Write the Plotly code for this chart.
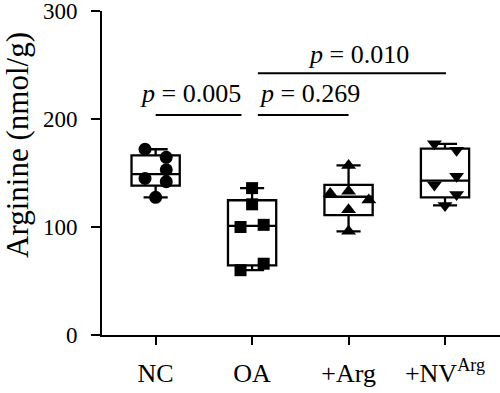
import numpy as np
import plotly.graph_objects as go

# ---- data ----
groups = ["NC", "OA", "+Arg", "+NV<sup>Arg</sup>"]
nc_vals = [172, 164.5, 153, 145, 142, 127.5]
oa_vals = [136, 121, 100, 102, 60, 66]
arg_vals = [157, 131, 133, 125, 116, 96]
nv_vals = [177, 171, 147, 139, 130, 120]
y_ticks = [0, 100, 200, 300]
p_labels = ["<i>p</i> = 0.005", "<i>p</i> = 0.269", "<i>p</i> = 0.010"]

# ---- style / layout (positions, not data) ----
jitter = [
    [-0.11, 0.11, 0.11, -0.11, 0.11, 0.0],
    [0.0, 0.0, -0.12, 0.12, -0.12, 0.12],
    [0.0, -0.19, 0.0, 0.21, 0.0, 0.0],
    [-0.11, 0.12, 0.12, -0.11, 0.12, 0.0],
]
symbols = ["circle", "square", "triangle-up", "triangle-down"]
sizes = [13, 12, 13, 13]
all_vals = [nc_vals, oa_vals, arg_vals, nv_vals]
xpos = list(range(len(groups)))

q1, med, q3, lo, hi = [], [], [], [], []
for v in all_vals:
    a = np.array(v, dtype=float)
    q1.append(float(np.percentile(a, 25, method="weibull")))
    med.append(float(np.median(a)))
    q3.append(float(np.percentile(a, 75, method="weibull")))
    lo.append(float(a.min()))
    hi.append(float(a.max()))

fig = go.Figure()
fig.add_trace(go.Box(
    x=xpos, q1=q1, median=med, q3=q3, lowerfence=lo, upperfence=hi,
    width=0.5, whiskerwidth=0.5, boxpoints=False,
    fillcolor="rgba(0,0,0,0)", line=dict(color="black", width=2.3),
    showlegend=False, hoverinfo="skip",
))
for i, v in enumerate(all_vals):
    fig.add_trace(go.Scatter(
        x=[xpos[i] + d for d in jitter[i]], y=v, mode="markers",
        marker=dict(symbol=symbols[i], size=sizes[i], color="black"),
        showlegend=False, cliponaxis=False,
    ))

serif = "Liberation Serif"
# significance brackets
brackets = [(0.0, 0.89, 203.7, 0.36, 224), (1.06, 2.0, 203.7, 1.6, 224), (1.06, 3.01, 242.3, 2.1, 260)]
for (x0, x1, yl, xt, yt), lab in zip(brackets, p_labels):
    fig.add_shape(type="line", x0=x0, x1=x1, y0=yl, y1=yl, xref="x", yref="y",
                  line=dict(color="black", width=2))
    fig.add_annotation(x=xt, y=yt, xref="x", yref="y", text=lab, showarrow=False,
                       font=dict(family=serif, size=26, color="black"),
                       xanchor="center", yanchor="middle")

fig.add_annotation(x=-84 / 398, y=176, xref="paper", yref="y", text="Arginine (nmol/g)",
                   textangle=-90, showarrow=False, xanchor="center", yanchor="middle",
                   font=dict(family=serif, size=31, color="black"))

fig.update_layout(
    width=500, height=393,
    margin=dict(l=102, r=0, t=11, b=58, pad=0, autoexpand=False),
    plot_bgcolor="white", paper_bgcolor="white",
    font=dict(family=serif, color="black"),
    xaxis=dict(range=[-0.556, 3.57], tickvals=xpos, ticktext=groups, automargin=False,
               showline=True, linecolor="black", linewidth=2, ticks="outside",
               ticklen=8, tickwidth=2, tickcolor="black", showgrid=False, zeroline=False,
               ticklabelstandoff=6,
               tickfont=dict(family=serif, size=26, color="black")),
    yaxis=dict(range=[0, 300], tickvals=y_ticks, showline=True, linecolor="black",
               automargin=False, ticklabeloverflow="allow",
               linewidth=2, ticks="outside", ticklen=9, tickwidth=2, tickcolor="black",
               showgrid=False, zeroline=False, ticklabelstandoff=9,
               tickfont=dict(family=serif, size=23, color="black")),
)
fig.write_html("out.html", config={"displayModeBar": False},
               post_script="document.body.style.margin='0';")
